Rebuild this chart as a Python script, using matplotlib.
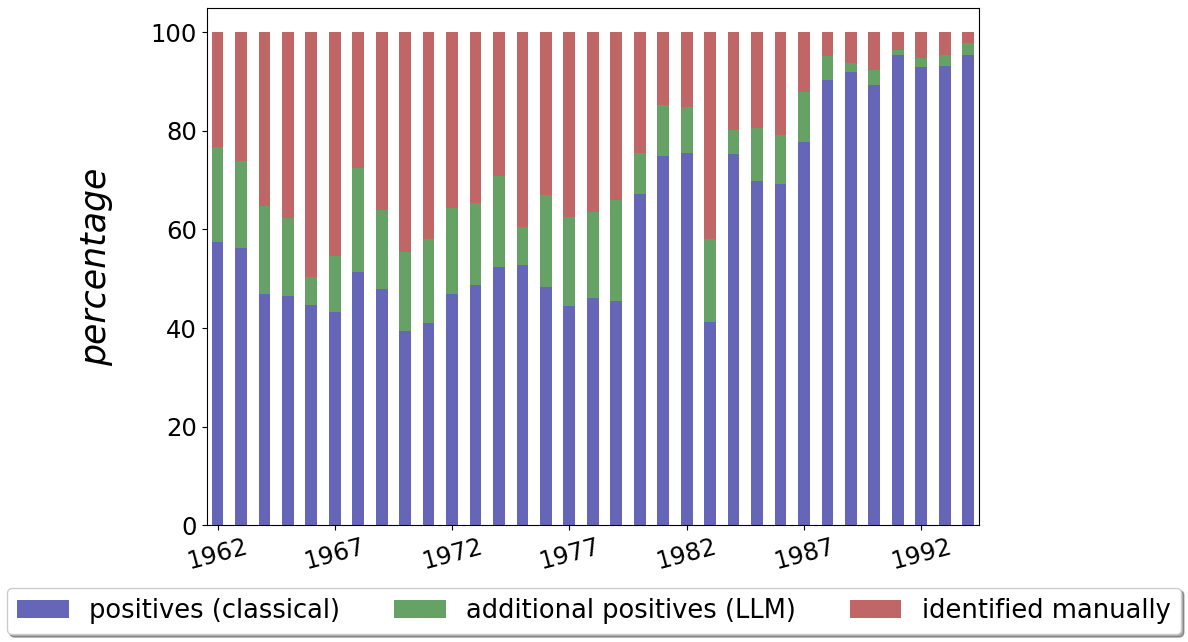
import numpy as np
import matplotlib
matplotlib.use("Agg")
import matplotlib.pyplot as plt

# 年ごとの割合 (読み取り値)
years = list(range(1962, 1995))
classical = [57.5, 56.2, 47.0, 46.5, 44.6, 43.3, 51.4, 48.0, 39.4, 41.0,
             46.9, 48.8, 52.4, 52.8, 48.3, 44.4, 46.0, 45.5, 67.1, 75.0,
             75.6, 41.2, 75.4, 69.9, 69.3, 77.8, 90.4, 92.0, 89.4, 95.5,
             92.9, 93.2, 95.5]
with_llm = [76.7, 73.8, 64.8, 62.3, 50.3, 54.7, 72.4, 63.9, 55.4, 58.1,
            64.4, 65.3, 70.9, 60.5, 66.9, 62.5, 63.6, 66.0, 75.6, 85.2,
            84.8, 58.0, 80.1, 80.6, 79.2, 87.9, 95.1, 93.8, 92.3, 96.5,
            94.7, 95.4, 97.9]

classical = np.array(classical)
llm = np.array(with_llm) - classical
manual = 100 - np.array(with_llm)

labels = ["positives (classical)", "additional positives (LLM)", "identified manually"]
colors = ["darkblue", "darkgreen", "#960000"]

fig = plt.figure(figsize=(11.88, 6.42), dpi=100)
ax = fig.add_axes([0.174, 0.182, 0.650, 0.806])

x = np.arange(len(years))
w = 0.5
ax.bar(x, classical, w, color=colors[0], alpha=0.6, label=labels[0])
ax.bar(x, llm, w, bottom=classical, color=colors[1], alpha=0.6, label=labels[1])
ax.bar(x, manual, w, bottom=classical + llm, color=colors[2], alpha=0.6, label=labels[2])

ax.set_xlim(-0.46, len(years) - 0.54)
ax.set_ylim(0, 105)
ax.set_yticks([0, 20, 40, 60, 80, 100])
ax.set_xticks(x[::5])
ax.set_xticklabels([str(y) for y in years[::5]], rotation=15)
ax.tick_params(labelsize=17.5)
ax.set_ylabel("percentage", fontsize=25, style="italic", labelpad=27)

fig.legend(loc="lower center", bbox_to_anchor=(0.5, -0.008), ncol=3, fontsize=18.5,
           shadow=True, fancybox=True, columnspacing=2.1)

plt.savefig("out.png", dpi=100)
